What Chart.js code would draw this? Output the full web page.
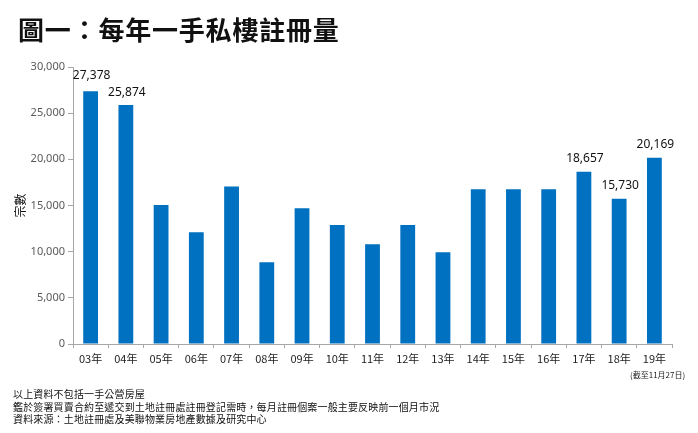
<!DOCTYPE html>
<html lang="zh-Hant">
<head>
<meta charset="UTF-8">
<title>每年一手私樓註冊量</title>
<script src="https://cdn.jsdelivr.net/npm/chart.js@4.4.1/dist/chart.umd.min.js"></script>
<style>
  body { margin: 0; background: #fff; font-family: "Noto Sans CJK TC", "Noto Sans", sans-serif; }
  #wrap { position: relative; width: 698px; height: 433px; overflow: hidden; }
  #title { position: absolute; left: 18px; top: 10px; font-size: 26px; font-weight: bold; color: #111; letter-spacing: 0.8px; }
  #note19 { position: absolute; left: 630px; top: 369px; font-size: 8px; color: #222; }
  #foot { position: absolute; left: 13px; top: 388px; font-size: 10px; line-height: 12.5px; color: #111; letter-spacing: 0.15px; }
  canvas { position: absolute; left: 0; top: 0; }
</style>
</head>
<body>
<div id="wrap">
  <canvas id="chart" width="698" height="433"></canvas>
  <div id="title">圖一：每年一手私樓註冊量</div>
  <div id="note19">(截至11月27日)</div>
  <div id="foot">
    以上資料不包括一手公營房屋<br>
    鑑於簽署買賣合約至遞交到土地註冊處註冊登記需時，每月註冊個案一般主要反映前一個月市況<br>
    資料來源：土地註冊處及美聯物業房地產數據及研究中心
  </div>
</div>
<script>
// data
var years = ['03年','04年','05年','06年','07年','08年','09年','10年','11年','12年','13年','14年','15年','16年','17年','18年','19年'];
var registrations = [27378, 25874, 15050, 12100, 17050, 8850, 14700, 12900, 10800, 12900, 9950, 16750, 16750, 16750, 18657, 15730, 20169];
var labelledBars = [0, 1, 14, 15, 16];

// value labels above selected bars
var barLabels = {
  id: 'barLabels',
  afterDatasetsDraw: function(chart) {
    var ctx = chart.ctx;
    var meta = chart.getDatasetMeta(0);
    ctx.save();
    ctx.font = '12px "Noto Sans", sans-serif';
    ctx.fillStyle = '#111';
    ctx.textAlign = 'center';
    ctx.textBaseline = 'middle';
    labelledBars.forEach(function(i) {
      var bar = meta.data[i];
      ctx.fillText(registrations[i].toLocaleString('en-US'), bar.x + 1, bar.y - (i === 0 ? 16 : 13));
    });
    ctx.restore();
  }
};

new Chart(document.getElementById('chart'), {
  type: 'bar',
  data: {
    labels: years,
    datasets: [{
      data: registrations,
      backgroundColor: '#0070C0',
      barPercentage: 0.42,
      categoryPercentage: 1.0
    }]
  },
  options: {
    responsive: false,
    animation: false,
    layout: { padding: { left: 13, top: 67, right: 26, bottom: 0 } },
    plugins: { legend: { display: false }, tooltip: { enabled: false } },
    scales: {
      x: {
        afterFit: function(s) { s.height = 89; },
        border: { color: '#a6a6a6' },
        grid: { drawOnChartArea: false, tickLength: 4, color: '#a6a6a6', offset: true },
        ticks: { color: '#222', font: { family: '"Noto Sans CJK TC"', size: 11 }, padding: 4, maxRotation: 0 }
      },
      y: {
        min: 0, max: 30000,
        afterFit: function(s) { s.width = 60; },
        border: { color: '#a6a6a6' },
        grid: { drawOnChartArea: false, tickLength: 5, color: '#a6a6a6' },
        ticks: {
          stepSize: 5000, color: '#595959', padding: 3,
          font: { family: '"Noto Sans"', size: 11 },
          callback: function(v) { return v.toLocaleString('en-US'); }
        },
        title: { display: true, text: '宗數', color: '#111', padding: 0, font: { family: '"Noto Sans CJK TC"', size: 12 } }
      }
    }
  },
  plugins: [barLabels]
});
</script>
</body>
</html>
